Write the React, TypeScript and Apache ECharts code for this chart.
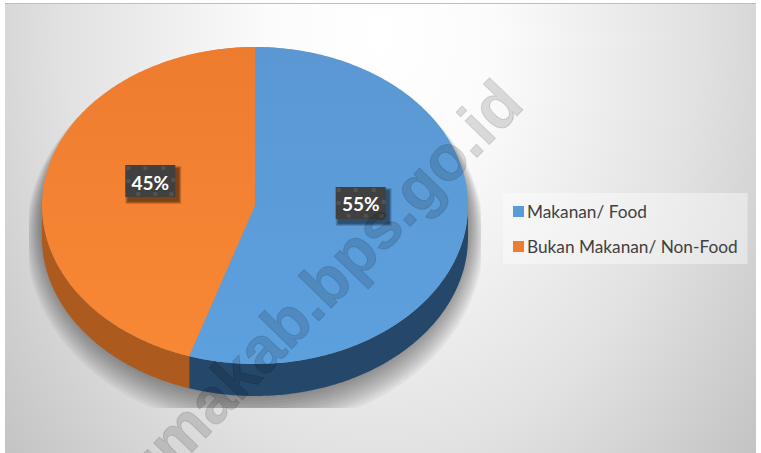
import React, { useEffect, useRef } from "react";
import * as echarts from "echarts";

const categories = ["Makanan/ Food", "Bukan Makanan/ Non-Food"];
const values = [55, 45];
const labels = ["55%", "45%"];
const topColorsA = ["#5b98d3", "#ee7c2f"];
const topColorsB = ["#5ca0de", "#f88835"];
const legendColors = ["#5b9bd5", "#ed7d31"];
const sideColors = ["#24476a", "#ac5a1d"];
const watermark = "umakab.bps.go.id";

const CX = 255, CY = 205.5, RX = 213, RY = 158.5, DEPTH = 32;
const BW = 50, BH = 32;
const total = values.reduce((a, b) => a + b, 0);

const pt = (t: number, dy = 0): number[] => [CX + RX * Math.sin(t), CY - RY * Math.cos(t) + dy];
const arc = (a: number, b: number, dy = 0): number[][] => {
  const n = Math.max(2, Math.ceil(Math.abs(b - a) * 90));
  const out: number[][] = [];
  for (let i = 0; i <= n; i++) out.push(pt(a + ((b - a) * i) / n, dy));
  return out;
};

const shadowLayers = () => {
  const layers: any[] = [];
  for (let g = 16; g >= 1; g -= 1.5) {
    const pts: number[][] = [];
    for (let i = 0; i < 180; i++) {
      const t = (i / 180) * 2 * Math.PI;
      const x = CX + (RX + g) * Math.sin(t);
      const y = CY + DEPTH / 2 + g - (RY + DEPTH / 2 + g) * Math.cos(t);
      pts.push([Math.max(29, Math.min(481, x)), Math.min(408, y)]);
    }
    layers.push({ type: "polygon", shape: { points: pts }, style: { fill: "rgba(0,0,0,0.045)" } });
  }
  return layers;
};

const renderSlice = (index: number) => (_p: any, api: any) => {
  const before = values.slice(0, index).reduce((a, b) => a + b, 0);
  const a = (before / total) * 2 * Math.PI;
  const b = a + (api.value(0) / total) * 2 * Math.PI;
  const children: any[] = [];
  if (index === 0) children.push(...shadowLayers());
  const s0 = Math.max(a, Math.PI / 2);
  const s1 = Math.min(b, (3 * Math.PI) / 2);
  if (s1 > s0) {
    children.push({
      type: "polygon",
      shape: { points: [...arc(s0, s1), ...arc(s1, s0, DEPTH)] },
      style: { fill: sideColors[index] },
    });
  }
  children.push({
    type: "polygon",
    shape: { points: [[CX, CY], ...arc(a, b)] },
    style: {
      fill: new echarts.graphic.LinearGradient(0, 0, 0, 1, [
        { offset: 0, color: topColorsA[index] },
        { offset: 1, color: topColorsB[index] },
      ]),
    },
  });
  return { type: "group", children };
};

const renderLabel = (index: number) => (_p: any, api: any) => {
  const before = values.slice(0, index).reduce((a, b) => a + b, 0);
  const mid = ((before + api.value(0) / 2) / total) * 2 * Math.PI;
  const r = 0.5;
  const lx = CX + RX * r * Math.sin(mid) - BW / 2 + 0.5;
  const ly = CY - RY * r * Math.cos(mid) - BH / 2 + (index === 0 ? -15 : -12);
  const kids: any[] = [];
  for (let g = 6; g >= 1; g--) {
    kids.push({
      type: "rect",
      shape: { x: lx + 3 - g / 2, y: ly + 4 - g / 2, width: BW + g, height: BH + g },
      style: { fill: "rgba(0,0,0,0.1)" },
    });
  }
  kids.push({ type: "rect", shape: { x: lx, y: ly, width: BW, height: BH }, style: { fill: "#404040" } });
  for (const [dx, dy] of [[1, 1], [18, 1], [36, 1], [46, 13], [1, 14], [11, 27], [28, 27], [44, 27]]) {
    kids.push({ type: "rect", shape: { x: lx + dx, y: ly + dy, width: 4, height: 4 }, style: { fill: "#525252" } });
  }
  kids.push({
    type: "text",
    x: lx + BW / 2,
    y: ly + BH / 2 + 1,
    style: {
      text: labels[index],
      fill: "#ffffff",
      font: 'bold 19px Lato, "Noto Sans", sans-serif',
      align: "center",
      verticalAlign: "middle",
    },
  });
  return { type: "group", children: kids };
};

export default function App() {
  const ref = useRef<HTMLDivElement>(null);
  useEffect(() => {
    const chart = echarts.init(ref.current!, null, { renderer: "svg" });
    chart.setOption({
      animation: false,
      legend: {
        data: categories,
        orient: "vertical",
        left: 503,
        top: 193,
        padding: [10, 10, 9, 10],
        backgroundColor: "rgba(255,255,255,0.4)",
        icon: "rect",
        itemWidth: 11,
        itemHeight: 11,
        itemGap: 18,
        selectedMode: false,
        textStyle: { color: "#404040", fontSize: 17.25, fontFamily: "Lato, sans-serif", padding: [0, 0, 0, -2] },
      },
      graphic: [
        {
          type: "rect",
          z: -10,
          silent: true,
          shape: { x: 5, y: 4, width: 751, height: 1000 },
          style: {
            fill: new echarts.graphic.RadialGradient(0.5, 0.03, 0.7, [
              { offset: 0, color: "#ffffff" },
              { offset: 0.22, color: "#fbfbfb" },
              { offset: 0.6, color: "#e2e2e2" },
              { offset: 1, color: "#bdbdbd" },
            ]),
          },
        },
        { type: "rect", z: -9, silent: true, shape: { x: 5, y: 3, width: 751, height: 1 }, style: { fill: "#bdbdbd" } },
        {
          type: "text",
          z: 100,
          silent: true,
          x: 321,
          y: 287,
          rotation: (46 * Math.PI) / 180,
          style: {
            text: watermark,
            fill: "#000",
            stroke: "#000",
            lineWidth: 1,
            opacity: 0.13,
            font: 'bold 64px "Liberation Sans", Arial, sans-serif',
            align: "center",
            verticalAlign: "middle",
          },
        },
      ],
      series: [
        ...categories.map((name, i) => ({
          type: "custom",
          name,
          coordinateSystem: "none",
          silent: true,
          itemStyle: { color: legendColors[i] },
          data: [[values[i]]],
          renderItem: renderSlice(i),
        })),
        ...categories.map((name, i) => ({
          type: "custom",
          name: name + " label",
          coordinateSystem: "none",
          silent: true,
          z: 3,
          data: [[values[i]]],
          renderItem: renderLabel(i),
        })),
      ],
    });
    return () => chart.dispose();
  }, []);
  return <div ref={ref} style={{ position: "fixed", left: 0, top: 0, width: 761, height: 453, background: "#fff" }} />;
}
